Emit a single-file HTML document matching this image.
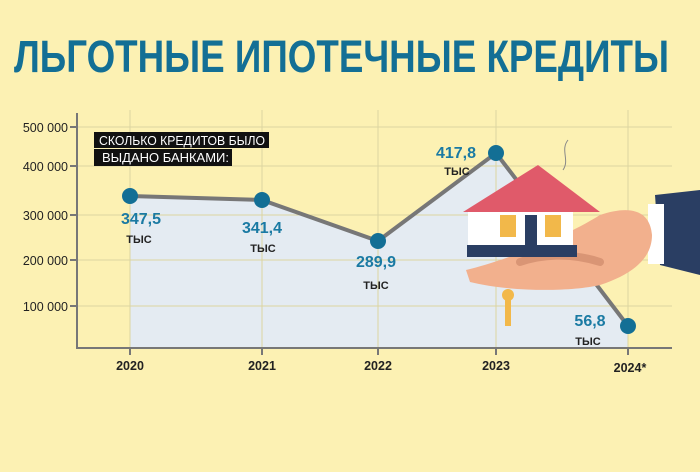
<!DOCTYPE html>
<html><head><meta charset="utf-8"><style>
body{margin:0;width:700px;height:467px;background:#fcf1b3;overflow:hidden;font-family:"Liberation Sans",sans-serif}
</style></head><body>
<svg width="700" height="467" xmlns="http://www.w3.org/2000/svg">
<text x="14" y="72" font-family="Liberation Sans, sans-serif" font-weight="bold" font-size="45" fill="#136f95" textLength="655" lengthAdjust="spacingAndGlyphs">ЛЬГОТНЫЕ ИПОТЕЧНЫЕ КРЕДИТЫ</text>
<polygon points="130,196 262,200 378,241 496,153 628,326 628,348 130,348" fill="#e4ebf2"/>
<g stroke="#dcd5a0" stroke-width="1">
<line x1="77" y1="127" x2="672" y2="127"/><line x1="77" y1="166" x2="672" y2="166"/><line x1="77" y1="215" x2="672" y2="215"/><line x1="77" y1="260" x2="672" y2="260"/><line x1="77" y1="306" x2="672" y2="306"/>
<line x1="130" y1="110" x2="130" y2="348"/><line x1="262" y1="110" x2="262" y2="348"/><line x1="378" y1="110" x2="378" y2="348"/><line x1="496" y1="110" x2="496" y2="348"/><line x1="628" y1="110" x2="628" y2="348"/>
</g>
<g stroke="#777" stroke-width="2" fill="none">
<line x1="77" y1="113" x2="77" y2="349"/><line x1="76" y1="348" x2="672" y2="348"/>
<line x1="130" y1="348" x2="130" y2="355"/><line x1="262" y1="348" x2="262" y2="355"/><line x1="378" y1="348" x2="378" y2="355"/><line x1="496" y1="348" x2="496" y2="355"/><line x1="628" y1="348" x2="628" y2="355"/>
<line x1="70" y1="127" x2="77" y2="127"/><line x1="70" y1="166" x2="77" y2="166"/><line x1="70" y1="215" x2="77" y2="215"/><line x1="70" y1="260" x2="77" y2="260"/><line x1="70" y1="306" x2="77" y2="306"/>
</g>
<g font-size="12.5" fill="#222" text-anchor="end">
<text x="68" y="132">500 000</text><text x="68" y="171">400 000</text><text x="68" y="220">300 000</text><text x="68" y="265">200 000</text><text x="68" y="311">100 000</text>
</g>
<g font-size="12.5" font-weight="bold" fill="#222" text-anchor="middle">
<text x="130" y="370">2020</text><text x="262" y="370">2021</text><text x="378" y="370">2022</text><text x="496" y="370">2023</text><text x="630" y="372">2024*</text>
</g>
<rect x="94" y="132" width="175" height="16" fill="#111"/><rect x="94" y="149" width="138" height="17" fill="#111"/>
<text x="99" y="145" font-size="13" fill="#fff" textLength="166" lengthAdjust="spacingAndGlyphs">СКОЛЬКО КРЕДИТОВ БЫЛО</text>
<text x="102" y="162" font-size="13" fill="#fff" textLength="127" lengthAdjust="spacingAndGlyphs">ВЫДАНО  БАНКАМИ:</text>
<polyline points="130,196 262,200 378,241 496,153 628,326" fill="none" stroke="#777" stroke-width="4"/>
<g fill="#136f95"><circle cx="130" cy="196" r="8"/><circle cx="262" cy="200" r="8"/><circle cx="378" cy="241" r="8"/><circle cx="496" cy="153" r="8"/><circle cx="628" cy="326" r="8"/></g>
<g font-size="16" font-weight="bold" fill="#1a7aa3" text-anchor="middle">
<text x="141" y="224">347,5</text><text x="262" y="233">341,4</text><text x="376" y="267">289,9</text><text x="456" y="158">417,8</text><text x="590" y="326">56,8</text>
</g>
<g font-size="11" font-weight="bold" fill="#222" text-anchor="middle">
<text x="139" y="243">ТЫС</text><text x="263" y="252">ТЫС</text><text x="376" y="289">ТЫС</text><text x="457" y="175">ТЫС</text><text x="588" y="345">ТЫС</text>
</g>
<path d="M655 195 L700 190 L700 275 L660 265 Z" fill="#2a3e63"/>
<rect x="648" y="204" width="16" height="60" fill="#fff"/>
<path d="M466 270 C500 262 560 240 600 215 C630 205 650 210 652 235 C652 260 630 275 600 285 C570 292 510 292 470 282 Z" fill="#f2b08d"/>
<path d="M520 262 C540 255 570 252 600 262" stroke="#d99575" stroke-width="8" fill="none" stroke-linecap="round"/>
<polygon points="538,165 463,212 600,212" fill="#e05a6a"/>
<rect x="468" y="212" width="105" height="36" fill="#fff"/>
<rect x="467" y="245" width="110" height="12" fill="#2a3e63"/>
<rect x="525" y="215" width="12" height="32" fill="#2a3e63"/>
<rect x="500" y="215" width="16" height="22" fill="#f2b84a"/><rect x="545" y="215" width="16" height="22" fill="#f2b84a"/>
<circle cx="508" cy="295" r="6" fill="#f2b84a"/><rect x="505" y="298" width="6" height="28" fill="#f2b84a"/>
<path d="M563 170 C570 160 560 150 568 140" stroke="#888" fill="none"/>
</svg>
</body></html>
